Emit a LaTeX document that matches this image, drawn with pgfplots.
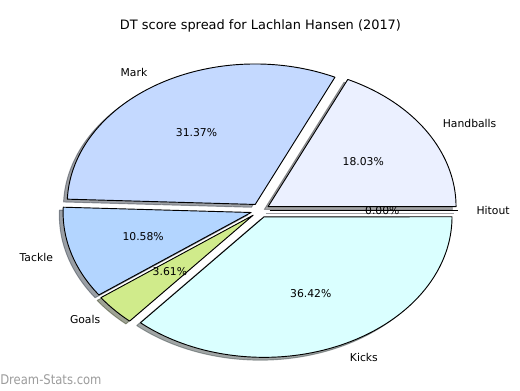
\documentclass[border=0pt]{standalone}
\usepackage{fontspec}
\setmainfont{DejaVu Sans}
\usepackage{graphicx}
\usepackage{pgfplots}
\pgfplotsset{compat=1.18}
\definecolor{cHand}{HTML}{EBF0FF}
\definecolor{cMark}{HTML}{C4D9FF}
\definecolor{cTack}{HTML}{B3D5FF}
\definecolor{cGoal}{HTML}{D0EB8B}
\definecolor{cKick}{HTML}{DAFFFF}
\definecolor{cHit}{HTML}{E0E0FF}
\definecolor{wm}{HTML}{9C9C9C}
\tikzset{lbl/.style={font=\fontsize{8.1}{9.7}\selectfont, text=black, inner sep=0pt}}
% percentages: Handballs 18.03, Mark 31.37, Tackle 10.58, Goals 3.61, Kicks 36.42, Hitout 0.00
% #1,#2 cumulative percentage at start/end, #3,#4 exploded centre (0.05 along mid angle), #5 colour
\newcommand{\pieslice}[5]{%
  \addplot[draw=black, line width=0.7pt, line join=round, fill=#5, domain={3.6*#1}:{3.6*#2}, samples=120, variable=\t]
    ({#3+cos(\t)},{#4+sin(\t)}) -- (axis cs:#3,#4) -- cycle;}
% shadow: same wedge shifted by (-0.02,-0.02)
\newcommand{\pieshadow}[5]{%
  \addplot[draw=#5!30!black, fill=#5!30!black, opacity=0.5, line width=0.7pt, line join=round, domain={3.6*#1}:{3.6*#2}, samples=120, variable=\t]
    ({#3+cos(\t)},{#4+sin(\t)}) -- (axis cs:#3,#4) -- cycle;}
\begin{document}
\begin{tikzpicture}
\begin{axis}[
  scale only axis, width=390pt, height=292.5pt,
  xmin=-1.3835, xmax=1.3824, ymin=-1.278, ymax=1.498,
  hide axis, clip=false,
]
\path (axis cs:-1.3835,-1.278) rectangle (axis cs:1.3824,1.498);
% shadows
\pieshadow{0}{18.03}{0.02219}{0.00684}{cHand}
\pieshadow{18.03}{49.40}{-0.04603}{0.02269}{cMark}
\pieshadow{49.40}{59.98}{-0.06785}{-0.03452}{cTack}
\pieshadow{59.98}{63.59}{-0.05691}{-0.05373}{cGoal}
\pieshadow{63.59}{100.01}{0.00072}{-0.06551}{cKick}
\addplot[draw=cHit!30!black, opacity=0.5, line width=0.7pt] coordinates {(0.03,-0.02) (1.03,-0.02)};
% wedges
\pieslice{0}{18.03}{0.04219}{0.02684}{cHand}
\pieslice{18.03}{49.40}{-0.02603}{0.04269}{cMark}
\pieslice{49.40}{59.98}{-0.04785}{-0.01452}{cTack}
\pieslice{59.98}{63.59}{-0.03691}{-0.03373}{cGoal}
\pieslice{63.59}{100.01}{0.02072}{-0.04551}{cKick}
\addplot[draw=black, line width=0.7pt] coordinates {(0.05,0) (1.05,0)};
% labels
\node[lbl, anchor=west] at (axis cs:0.9704,0.6172) {Handballs};
\node[lbl, anchor=east] at (axis cs:-0.5987,0.9819) {Mark};
\node[lbl, anchor=east] at (axis cs:-1.1005,-0.3339) {Tackle};
\node[lbl, anchor=east] at (axis cs:-0.8489,-0.7758) {Goals};
\node[lbl, anchor=west] at (axis cs:0.4764,-1.0466) {Kicks};
\node[lbl, anchor=west] at (axis cs:1.15,0) {Hitout};
% percentages
\node[lbl] at (axis cs:0.5485,0.3488) {18.03\%};
\node[lbl] at (axis cs:-0.3384,0.5550) {31.37\%};
\node[lbl] at (axis cs:-0.6220,-0.1887) {10.58\%};
\node[lbl] at (axis cs:-0.4798,-0.4385) {3.61\%};
\node[lbl] at (axis cs:0.2693,-0.5916) {36.42\%};
\node[lbl] at (axis cs:0.65,0) {0.00\%};
% title and watermark
\node[lbl, font=\fontsize{9.7}{11.6}\selectfont] at (axis cs:0.002,1.3153) {DT score spread for Lachlan Hansen (2017)};
\node[anchor=west, inner sep=0pt, text=wm, font=\fontsize{10}{12}\selectfont] at (axis cs:-1.3835,-1.2064) {\scalebox{0.87}[1]{Dream-Stats.com}};
\end{axis}
\end{tikzpicture}
\end{document}
